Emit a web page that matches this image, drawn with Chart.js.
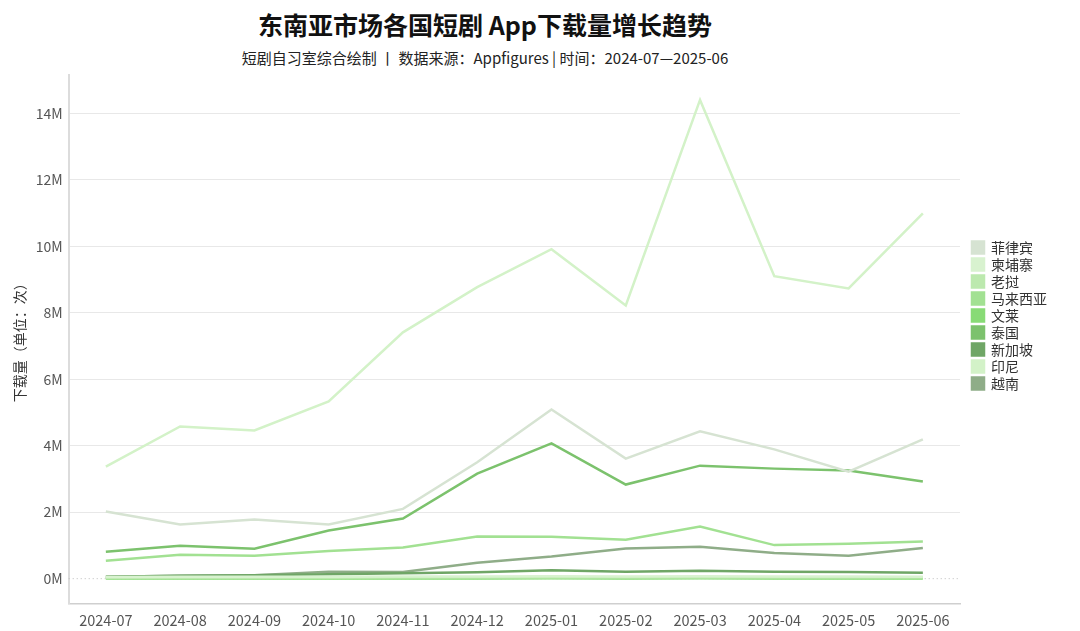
<!DOCTYPE html>
<html>
<head>
<meta charset="utf-8">
<script src="https://cdn.jsdelivr.net/npm/chart.js@4.4.1/dist/chart.umd.min.js"></script>
<style>
  html, body { margin: 0; padding: 0; background: #fff; }
  body { width: 1080px; height: 631px; position: relative; overflow: hidden;
         font-family: "Noto Sans CJK SC", "Noto Sans", sans-serif; }
  #title { position: absolute; top: 6px; left: 0; width: 970px; text-align: center;
           font-size: 25px; font-weight: bold; color: #111; }
  #subtitle { position: absolute; top: 47px; left: 0; width: 970px; text-align: center;
              font-size: 15px; color: #222; }
  #wrap { position: absolute; left: 0; top: 0; width: 1080px; height: 631px; }
</style>
</head>
<body>
<div id="title">东南亚市场各国短剧 App下载量增长趋势</div>
<div id="subtitle">短剧自习室综合绘制 丨 数据来源：Appfigures | 时间：2024-07—2025-06</div>
<div id="wrap"><canvas id="myChart" width="1080" height="631"></canvas></div>
<script>
// months on the x axis
var months = ['2024-07', '2024-08', '2024-09', '2024-10', '2024-11', '2024-12',
              '2025-01', '2025-02', '2025-03', '2025-04', '2025-05', '2025-06'];

// downloads per country
var philippines = [2020000, 1630000, 1780000, 1630000, 2100000, 3500000, 5090000, 3610000, 4430000, 3890000, 3220000, 4190000];
var cambodia    = [50000, 55000, 60000, 60000, 62000, 65000, 70000, 65000, 70000, 65000, 62000, 60000];
var laos        = [25000, 28000, 30000, 30000, 32000, 35000, 38000, 35000, 38000, 35000, 33000, 32000];
var malaysia    = [540000, 720000, 690000, 830000, 940000, 1270000, 1260000, 1170000, 1570000, 1010000, 1050000, 1120000];
var brunei      = [5000, 6000, 6000, 7000, 7000, 8000, 9000, 8000, 9000, 8000, 8000, 8000];
var thailand    = [810000, 990000, 900000, 1450000, 1810000, 3160000, 4070000, 2830000, 3400000, 3310000, 3250000, 2920000];
var singapore   = [60000, 90000, 100000, 130000, 160000, 190000, 250000, 210000, 240000, 210000, 200000, 180000];
var indonesia   = [3370000, 4580000, 4460000, 5330000, 7410000, 8770000, 9910000, 8220000, 14400000, 9100000, 8730000, 10990000];
var vietnam     = [60000, 90000, 100000, 210000, 200000, 480000, 670000, 910000, 960000, 770000, 690000, 920000];

var countries = ['菲律宾', '柬埔寨', '老挝', '马来西亚', '文莱', '泰国', '新加坡', '印尼', '越南'];
var colors = ['#d6e3d2', '#d8f2cf', '#bce9ae', '#a2e192', '#88db76', '#7cc26d', '#6fa666', '#d3f2c8', '#8fad88'];
var series = [philippines, cambodia, laos, malaysia, brunei, thailand, singapore, indonesia, vietnam];

var yTicks = [0, 2000000, 4000000, 6000000, 8000000, 10000000, 12000000, 14000000];

var FONT = '"Noto Sans CJK SC", "Noto Sans", sans-serif';

var datasets = countries.map(function (name, i) {
    return {
        label: name,
        data: series[i],
        borderColor: colors[i],
        backgroundColor: colors[i],
        borderWidth: 2.5,
        pointRadius: 0,
        tension: 0,
        fill: false
    };
});

// dotted zero line + legend centred on the whole canvas, a bit away from the plot
var extras = {
    id: 'extras',
    afterUpdate: function (chart) {
        var lg = chart.legend;
        if (lg) {
            lg.top = 0;
            lg.bottom = chart.height;
            lg.left += 9;
            lg.right += 9;
            lg.adjustHitBoxes();
        }
    },
    beforeDatasetsDraw: function (chart) {
        var y = chart.scales.y.getPixelForValue(0);
        var area = chart.chartArea;
        var ctx = chart.ctx;
        ctx.save();
        ctx.strokeStyle = '#bbbbbb';
        ctx.lineWidth = 1;
        ctx.setLineDash([1, 3]);
        ctx.beginPath();
        ctx.moveTo(area.left, y);
        ctx.lineTo(area.right, y);
        ctx.stroke();
        ctx.restore();
    }
};

var ctx = document.getElementById('myChart').getContext('2d');
var myChart = new Chart(ctx, {
    type: 'line',
    data: {
        labels: months,
        datasets: datasets
    },
    plugins: [extras],
    options: {
        responsive: false,
        animation: false,
        layout: {
            padding: { top: 75, right: 32, bottom: 2, left: 11 }
        },
        scales: {
            x: {
                offset: true,
                grid: { display: false },
                border: { color: '#cfcfcf', width: 1.5 },
                ticks: {
                    color: '#555',
                    font: { family: FONT, size: 14.5 },
                    maxRotation: 0,
                    autoSkip: false,
                    padding: 0
                }
            },
            y: {
                min: -750000,
                max: 15150000,
                afterBuildTicks: function (axis) {
                    axis.ticks = yTicks.map(function (v) { return { value: v }; });
                },
                grid: {
                    color: function (c) {
                        return c.tick && c.tick.value === 0 ? 'rgba(0,0,0,0)' : '#e8e8e8';
                    },
                    drawTicks: false
                },
                border: { color: '#dcdcdc', width: 2 },
                ticks: {
                    color: '#555',
                    font: { family: FONT, size: 14 },
                    padding: 6,
                    callback: function (v) { return (v / 1000000) + 'M'; }
                },
                title: {
                    display: true,
                    text: '下载量（单位：次）',
                    color: '#333',
                    font: { family: FONT, size: 14 },
                    padding: { top: 0, bottom: 2 }
                }
            }
        },
        plugins: {
            legend: {
                position: 'right',
                align: 'center',
                labels: {
                    boxWidth: 12,
                    boxHeight: 12,
                    padding: 3,
                    color: '#333',
                    font: { family: FONT, size: 14 }
                }
            },
            tooltip: { enabled: false }
        }
    }
});
</script>
</body>
</html>
